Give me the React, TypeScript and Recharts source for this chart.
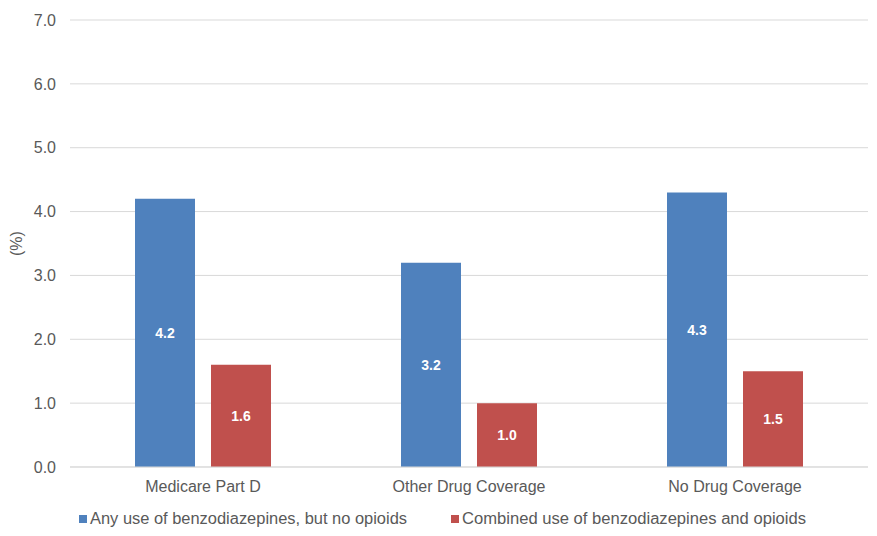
import React from 'react';
import { BarChart, Bar, XAxis, YAxis, CartesianGrid, Legend, LabelList, Label } from 'recharts';

const categories = ['Medicare Part D', 'Other Drug Coverage', 'No Drug Coverage'];
const benzoOnly = [4.2, 3.2, 4.3];
const combined = [1.6, 1.0, 1.5];
const yTicks = [0, 1, 2, 3, 4, 5, 6, 7];
const seriesNames = ['Any use of benzodiazepines, but no opioids', 'Combined use of benzodiazepines and opioids'];
const colors = ['#4F81BD', '#C0504D'];

const data = categories.map((c, i) => ({ name: c, a: benzoOnly[i], b: combined[i] }));

const font = 'Liberation Sans, Arial, sans-serif';

const LegendContent = () => (
  <svg width={877} height={24} style={{ display: 'block' }}>
    <rect x={79} y={8} width={8} height={8} fill={colors[0]} />
    <text x={90} y={17} fontFamily={font} fontSize={16} fill="#595959" textLength={317} lengthAdjust="spacingAndGlyphs">{seriesNames[0]}</text>
    <rect x={451} y={8} width={8} height={8} fill={colors[1]} />
    <text x={462} y={17} fontFamily={font} fontSize={16} fill="#595959" textLength={344} lengthAdjust="spacingAndGlyphs">{seriesNames[1]}</text>
  </svg>
);

export default function App() {
  return (
    <div style={{ position: 'absolute', left: 0, top: 0, background: '#fff' }}>
      <BarChart width={877} height={536} data={data} margin={{ top: 20, right: 9, bottom: 15, left: 0 }} barGap={16} barSize={60}>
        <CartesianGrid vertical={false} stroke="#d9d9d9" />
        <XAxis dataKey="name" tickLine={false} axisLine={{ stroke: '#d9d9d9' }} tickSize={0} tickMargin={14}
          tick={{ fill: '#595959', fontSize: 16, fontFamily: font }} />
        <YAxis width={70} domain={[0, 7]} ticks={yTicks} tickFormatter={(v: number) => v.toFixed(1)} axisLine={false} tickLine={false}
          tickSize={0} tickMargin={14} tick={{ fill: '#595959', fontSize: 16, fontFamily: font }}>
          <Label value="(%)" angle={-90} position="insideLeft" offset={16} style={{ fill: '#595959', fontSize: 16, fontFamily: font, textAnchor: 'middle' }} />
        </YAxis>
        <Legend verticalAlign="bottom" align="left" wrapperStyle={{ left: 0, top: 507, width: 877, height: 24 }} content={<LegendContent />} />
        <Bar dataKey="a" fill={colors[0]} isAnimationActive={false}>
          <LabelList dataKey="a" position="center" formatter={(v: number) => v.toFixed(1)} fill="#fff" fontSize={14} fontWeight="bold" fontFamily={font} />
        </Bar>
        <Bar dataKey="b" fill={colors[1]} isAnimationActive={false}>
          <LabelList dataKey="b" position="center" formatter={(v: number) => v.toFixed(1)} fill="#fff" fontSize={14} fontWeight="bold" fontFamily={font} />
        </Bar>
      </BarChart>
    </div>
  );
}
